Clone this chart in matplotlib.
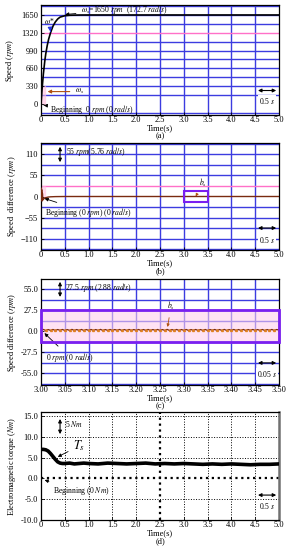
import numpy as np
import matplotlib
matplotlib.use("Agg")
import matplotlib.pyplot as plt

plt.rcParams['font.family'] = ['Liberation Serif', 'DejaVu Serif']
plt.rcParams['mathtext.fontset'] = 'stix'

# ---------------- data ----------------
# (a) speed response
t_a = [0, 0.02, 0.05, 0.08, 0.1, 0.13, 0.16, 0.2, 0.25, 0.3, 0.35, 0.4, 0.5, 0.6, 0.8, 1.0, 2.0, 3.0, 4.0, 5.0]
speed_a = [0, 250, 560, 800, 930, 1080, 1200, 1320, 1440, 1520, 1575, 1610, 1636, 1645, 1649, 1650, 1650, 1650, 1650, 1650]
yticks_a = [0, 330, 660, 990, 1320, 1650]

# (b) speed difference
t_b = [0, 0.005, 0.01, 0.015, 0.02, 0.03, 0.04, 0.06, 0.08, 0.1, 0.15, 0.2, 0.3, 0.5, 1.0, 2.0, 3.0, 4.0, 5.0]
diff_b = [0, 22, -10, 18, -12, 8, -9, -6, -4, -3, -1.5, -0.8, -0.3, 0, 0, 0, 0, 0, 0]
yticks_b = [-110, -55, 0, 55, 110]

# (c) zoomed speed difference (3.00 - 3.50 s)
diff_c = [1.6, 2.3, 1.0, 2.2, 1.1, 2.3, 1.0, 2.2, 1.2, 2.3, 1.0, 2.2, 1.1, 2.4, 1.0, 2.2,
          1.1, 2.3, 1.0, 2.2, 1.2, 2.3, 1.0, 2.2, 1.1, 2.4, 1.0, 2.2, 1.1, 2.3, 1.0, 2.2,
          1.2, 2.3, 1.0, 2.2, 1.1, 2.3, 1.0, 2.2, 1.1, 2.3, 1.0, 2.2, 1.2, 2.3, 1.0, 2.2,
          1.1, 2.3, 1.0, 2.2, 1.1, 2.4, 1.0, 2.2, 1.1, 2.3, 1.0, 2.2, 1.2, 2.3, 1.0, 2.2,
          1.1, 2.3, 1.0, 2.2, 1.1, 2.3, 1.0, 2.2, 1.2, 2.3, 1.0, 2.2, 1.1, 2.4, 1.0, 2.2,
          1.1, 2.3, 1.0, 2.2, 1.1, 2.3, 1.0, 2.2, 1.2, 2.3, 1.0, 2.2, 1.1, 2.3, 1.0, 2.2,
          1.1, 2.3, 1.0, 2.2, 1.6]
t_c_range = (3.0, 3.5)
yticks_c = [-55.0, -27.5, 0.0, 27.5, 55.0]

# (d) electromagnetic torque
t_d = [0, 0.05, 0.1, 0.15, 0.2, 0.25, 0.3, 0.35, 0.4, 0.45, 0.5, 0.6, 0.7, 0.8, 0.9, 1.0,
       1.2, 1.4, 1.6, 1.8, 2.0, 2.2, 2.4, 2.6, 2.8, 3.0, 3.2, 3.4, 3.6, 3.8, 4.0, 4.2,
       4.4, 4.6, 4.8, 5.0]
torque_d = [7.0, 7.0, 6.9, 6.6, 6.0, 5.3, 4.6, 4.0, 3.7, 3.6, 3.6, 3.7, 3.5, 3.6, 3.7, 3.6,
            3.5, 3.7, 3.6, 3.5, 3.6, 3.7, 3.5, 3.6, 3.5, 3.6, 3.5, 3.4, 3.5, 3.4, 3.5, 3.4,
            3.3, 3.4, 3.4, 3.5]
yticks_d = [-10.0, -5.0, 0.0, 5.0, 10.0, 15.0]

xticks_full = [0, 0.5, 1.0, 1.5, 2.0, 2.5, 3.0, 3.5, 4.0, 4.5, 5.0]
xlabels_full = ['0', '0.5', '1.0', '1.5', '2.0', '2.5', '3.0', '3.5', '4.0', '4.5', '5.0']
xticks_c = [3.00, 3.05, 3.10, 3.15, 3.20, 3.25, 3.30, 3.35, 3.40, 3.45, 3.50]

BLUE = '#3c3ce0'
PINK = '#ff70c8'
PURPLE = '#7a1ff0'
BROWN = '#7a2a10'
FS = 6
W, H = 292, 550

fig = plt.figure(figsize=(2.92, 5.5), dpi=100)

def make_axes(top, bottom, letter):
    ax = fig.add_axes([41/W, 1-bottom/H, 238/W, (bottom-top)/H])
    ax.tick_params(labelsize=FS, length=2, width=0.6, direction='in', pad=2)
    ax.tick_params(axis='x', pad=1)
    for s in ax.spines.values():
        s.set_linewidth(0.9)
    xc = (41 + 279) / 2 / W
    fig.text(xc, 1-(bottom+9)/H, 'Time(s)\n(%s)' % letter, fontsize=FS, ha='center', va='top',
             linespacing=1.0)
    return ax

def blue_grid(ax, xs, ys, pink_y=()):
    for x in xs:
        ax.axvline(x, color=BLUE, lw=1.0, zorder=1)
    for y in ys:
        ax.axhline(y, color=PINK if y in pink_y else BLUE, lw=1.0, zorder=1)

# ---------- (a) ----------
ax = make_axes(5, 115, 'a')
ax.set_xlim(0, 5)
ax.set_ylim(-204, 1835)
blue_grid(ax, xticks_full[1:-1], [165*k for k in range(-1, 12) if k != 0], pink_y=(1320,))
ax.axvspan(0, 0.08, ymin=0.1, ymax=0.26, color='#ffc0e0', alpha=0.6, zorder=1)
ax.plot(t_a, speed_a, color='black', lw=1.2, zorder=3)
ax.set_xticks(xticks_full)
ax.set_xticklabels(xlabels_full)
ax.set_yticks(yticks_a)
ax.set_ylabel('Speed ($\\it{rpm}$)', fontsize=FS, labelpad=4)
ax.annotate('$\\omega_s$=1650 $\\it{rpm}$  (172.7 $\\it{rad/s}$)', xy=(0.45, 1655), xytext=(0.85, 1755),
            fontsize=5.5, va='center', arrowprops=dict(arrowstyle='-|>', color='black', lw=0.6, mutation_scale=5))
ax.annotate('$\\omega$*', xy=(0.2, 1340), xytext=(0.06, 1480), fontsize=5.5,
            arrowprops=dict(arrowstyle='-|>', color='#2030e0', lw=0.8, mutation_scale=6))
ax.annotate('$\\omega_s$', xy=(0.08, 230), xytext=(0.72, 230), fontsize=5.5, va='center',
            arrowprops=dict(arrowstyle='-|>', color='#b05010', lw=0.8, mutation_scale=5))
ax.annotate('Beginning  0 $\\it{rpm}$ (0 $\\it{rad/s}$)', xy=(0.0, -20), xytext=(0.18, -110),
            fontsize=5.5, va='center',
            arrowprops=dict(arrowstyle='-|>', color='black', lw=0.6, mutation_scale=5))
ax.annotate('', xy=(4.5, 250), xytext=(5.0, 250),
            arrowprops=dict(arrowstyle='<|-|>', color='black', lw=0.8, mutation_scale=5))
ax.text(4.75, 150, '0.5 $\\it{s}$', fontsize=5.5, ha='center', va='top',
        bbox=dict(facecolor='white', edgecolor='none', pad=0.5))

# ---------- (b) ----------
ax = make_axes(143, 250, 'b')
ax.set_xlim(0, 5)
ax.set_ylim(-140, 140)
blue_grid(ax, xticks_full[1:-1], [27.5*k for k in range(-5, 6) if k != 0], pink_y=(27.5,))
ax.axhspan(0, 27.5, xmin=0, xmax=0.015, color='#ffc0e0', alpha=0.5, zorder=1)
ax.plot(t_b, diff_b, color=BROWN, lw=1.0, zorder=3)
ax.add_patch(plt.Rectangle((3.0, -13.75), 0.5, 27.5, fill=False, edgecolor=PURPLE, lw=1.5, zorder=4))
ax.set_xticks(xticks_full)
ax.set_xticklabels(xlabels_full)
ax.set_yticks(yticks_b)
ax.set_ylabel('Speed  difference ($\\it{rpm}$)', fontsize=FS, labelpad=2)
ax.annotate('', xy=(0.4, 137.5), xytext=(0.4, 82.5),
            arrowprops=dict(arrowstyle='<|-|>', color='black', lw=0.8, mutation_scale=5))
ax.text(0.52, 118, '55 $\\it{rpm}$(5.76 $\\it{rad/s}$)', fontsize=5.5, va='center')
ax.annotate('Beginning (0 $\\it{rpm}$) (0 $\\it{rad/s}$)', xy=(0.02, -3), xytext=(0.08, -42),
            fontsize=5.5, va='center',
            arrowprops=dict(arrowstyle='-|>', color='black', lw=0.6, mutation_scale=5))
ax.annotate('$b_s$', xy=(3.25, 0), xytext=(3.32, 28), fontsize=5.5,
            arrowprops=dict(arrowstyle='-|>', color='#b05010', lw=0.6, mutation_scale=4))
ax.annotate('', xy=(4.5, -82.5), xytext=(5.0, -82.5),
            arrowprops=dict(arrowstyle='<|-|>', color='black', lw=0.8, mutation_scale=5))
ax.text(4.75, -100, '0.5 $\\it{s}$', fontsize=5.5, ha='center', va='top',
        bbox=dict(facecolor='white', edgecolor='none', pad=0.5))

# ---------- (c) ----------
ax = make_axes(279, 385, 'c')
ax.set_xlim(*t_c_range)
ax.set_ylim(-70, 68)
blue_grid(ax, xticks_c[1:-1], [13.75*k for k in range(-5, 6) if k != 0])
ax.axhspan(-13.75, 27.5, color='#ffd0ec', alpha=0.6, zorder=1)
ax.add_patch(plt.Rectangle((3.0, -13.75), 0.5, 41.25, fill=False, edgecolor=PURPLE, lw=2.0,
                           zorder=4, clip_on=False))
t_c = np.linspace(t_c_range[0], t_c_range[1], len(diff_c))
ax.plot(t_c, diff_c, color=BROWN, lw=0.9, zorder=3)
ax.plot(t_c[::2], diff_c[::2], ls='none', marker='^', ms=1.4, color='#e08020', zorder=3)
ax.set_xticks(xticks_c)
ax.set_xticklabels(['%.2f' % v for v in xticks_c])
ax.set_yticks(yticks_c)
ax.set_yticklabels(['%.1f' % v for v in yticks_c])
ax.set_ylabel('Speed difference ($\\it{rpm}$)', fontsize=FS, labelpad=2)
ax.annotate('', xy=(3.04, 68), xytext=(3.04, 41),
            arrowprops=dict(arrowstyle='<|-|>', color='black', lw=0.8, mutation_scale=5))
ax.text(3.05, 57, '27.5 $\\it{rpm}$ (2.88 $\\it{rad/s}$)', fontsize=5.5, va='center')
ax.annotate('0 $\\it{rpm}$ (0 $\\it{rad/s}$)', xy=(3.003, 0), xytext=(3.01, -34),
            fontsize=5.5, va='center',
            arrowprops=dict(arrowstyle='-|>', color='black', lw=0.6, mutation_scale=5))
ax.annotate('$b_s$', xy=(3.265, 2), xytext=(3.265, 29), fontsize=5.5,
            arrowprops=dict(arrowstyle='-|>', color='#b05010', lw=0.6, mutation_scale=4))
ax.annotate('', xy=(3.45, -41.25), xytext=(3.5, -41.25),
            arrowprops=dict(arrowstyle='<|-|>', color='black', lw=0.8, mutation_scale=5))
ax.text(3.475, -49, '0.05 $\\it{s}$', fontsize=5.5, ha='center', va='top',
        bbox=dict(facecolor='white', edgecolor='none', pad=0.5))

# ---------- (d) ----------
ax = make_axes(412, 520, 'd')
ax.spines['right'].set_linewidth(1.8)
ax.spines['right'].set_color('#707070')
ax.set_xlim(0, 5)
ax.set_ylim(-10, 16)
for x in xticks_full[1:-1]:
    ax.axvline(x, color='black', lw=1.6 if x == 2.5 else 0.7, ls=':', zorder=1)
for y in [-5, 0, 5, 10, 15]:
    ax.axhline(y, color='black', lw=1.6 if y == 0 else 0.7, ls=':', zorder=1)
ax.plot(t_d, torque_d, color='black', lw=2.6, zorder=3)
ax.set_xticks(xticks_full)
ax.set_xticklabels(xlabels_full)
ax.set_yticks(yticks_d)
ax.set_yticklabels(['%.1f' % v for v in yticks_d])
ax.set_ylabel('Electromagnetic torque ($\\it{Nm}$)', fontsize=FS, labelpad=2)
ax.annotate('', xy=(0.4, 15), xytext=(0.4, 10),
            arrowprops=dict(arrowstyle='<|-|>', color='black', lw=0.8, mutation_scale=5))
ax.text(0.5, 13, '5 $\\it{Nm}$', fontsize=5.5, va='center')
ax.annotate('$T_s$', xy=(0.3, 4.9), xytext=(0.68, 7.0), fontsize=9,
            arrowprops=dict(arrowstyle='-|>', color='black', lw=0.6, mutation_scale=5))
ax.annotate('Beginning (0 $\\it{Nm}$)', xy=(0.02, -0.2), xytext=(0.25, -3.0),
            fontsize=5.5, va='center',
            arrowprops=dict(arrowstyle='-|>', color='black', lw=0.6, mutation_scale=5))
ax.annotate('', xy=(4.5, -4.0), xytext=(5.0, -4.0),
            arrowprops=dict(arrowstyle='<|-|>', color='black', lw=0.8, mutation_scale=5))
ax.text(4.75, -5.5, '0.5 $\\it{s}$', fontsize=5.5, ha='center', va='top',
        bbox=dict(facecolor='white', edgecolor='none', pad=0.5))

fig.savefig('out.png', dpi=100)
